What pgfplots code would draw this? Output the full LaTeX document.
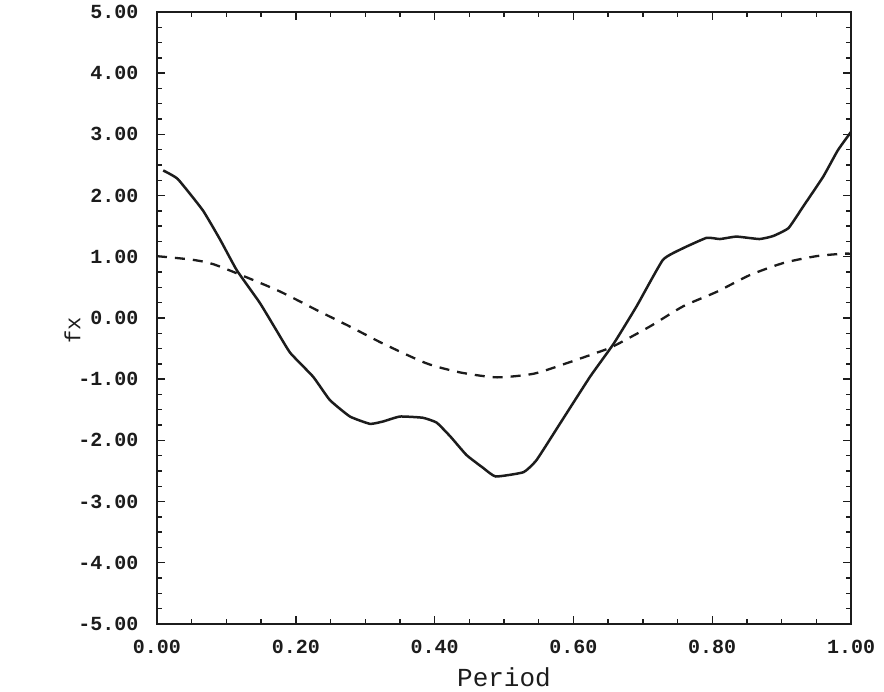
\documentclass[border=0pt]{standalone}
\usepackage{fontspec}
\setmainfont{Liberation Mono}
\usepackage{pgfplots}
\pgfplotsset{compat=1.18}
\definecolor{ink}{RGB}{28,28,28}

% measured force and linearised reference signal over one wave period
\pgfplotstableread{
t     fx
0.009  2.41
0.030  2.27
0.066  1.76
0.091  1.28
0.115  0.78
0.148  0.25
0.172 -0.20
0.192 -0.57
0.225 -0.96
0.249 -1.34
0.278 -1.61
0.307 -1.73
0.326 -1.69
0.350 -1.61
0.383 -1.63
0.403 -1.71
0.423 -1.94
0.446 -2.24
0.470 -2.45
0.488 -2.59
0.528 -2.52
0.547 -2.32
0.581 -1.72
0.624 -0.96
0.658 -0.42
0.691  0.19
0.729  0.95
0.758  1.14
0.792  1.31
0.811  1.29
0.835  1.33
0.868  1.29
0.888  1.34
0.910  1.47
0.931  1.82
0.960  2.31
0.981  2.74
1.000  3.04
}\measured

\pgfplotstableread{
t     fx
0.000  1.01
0.052  0.95
0.086  0.86
0.172  0.46
0.230  0.13
0.278 -0.14
0.326 -0.42
0.388 -0.74
0.437 -0.89
0.490 -0.97
0.543 -0.91
0.590 -0.74
0.633 -0.57
0.658 -0.46
0.710 -0.14
0.758  0.19
0.807  0.43
0.854  0.70
0.903  0.90
0.950  1.01
0.988  1.05
1.000  1.05
}\reference

\begin{document}
\begin{tikzpicture}[x=1pt,y=1pt]
\useasboundingbox (0,0) rectangle (884,692);
\begin{axis}[
  at={(157pt,68pt)}, anchor=south west,
  scale only axis, width=694pt, height=612pt,
  xmin=0, xmax=1, ymin=-5, ymax=5,
  xtick={0,0.2,0.4,0.6,0.8,1.0},
  ytick={-5,-4,-3,-2,-1,0,1,2,3,4,5},
  minor x tick num=3, minor y tick num=3,
  axis line style={ink, line width=1.8pt},
  every tick/.style={ink, line width=1.4pt},
  major tick length=8pt, minor tick length=5pt,
  tick align=inside,
  /pgf/number format/.cd, fixed, fixed zerofill, precision=2, assume math mode=true,
  /pgfplots/.cd,
  tick label style={font=\fontsize{20}{20}\selectfont\bfseries, text=ink},
  xticklabel style={yshift=-13pt},
  yticklabel style={xshift=-15pt},
  xlabel={Period},
  xlabel style={font=\fontsize{26}{26}\selectfont, text=ink,
    at={(axis description cs:0.5,-0.0866)}, anchor=center},
  ylabel={fx},
  ylabel style={font=\fontsize{22}{22}\selectfont, text=ink,
    at={(axis description cs:-0.122,0.48)}, anchor=center},
]
\addplot[ink, line width=2.5pt, smooth, tension=0.25] table[x=t, y=fx] {\measured};
\addplot[ink, line width=2.3pt, dash pattern=on 10pt off 8pt, smooth, tension=0.4] table[x=t, y=fx] {\reference};
\end{axis}
\end{tikzpicture}
\end{document}
